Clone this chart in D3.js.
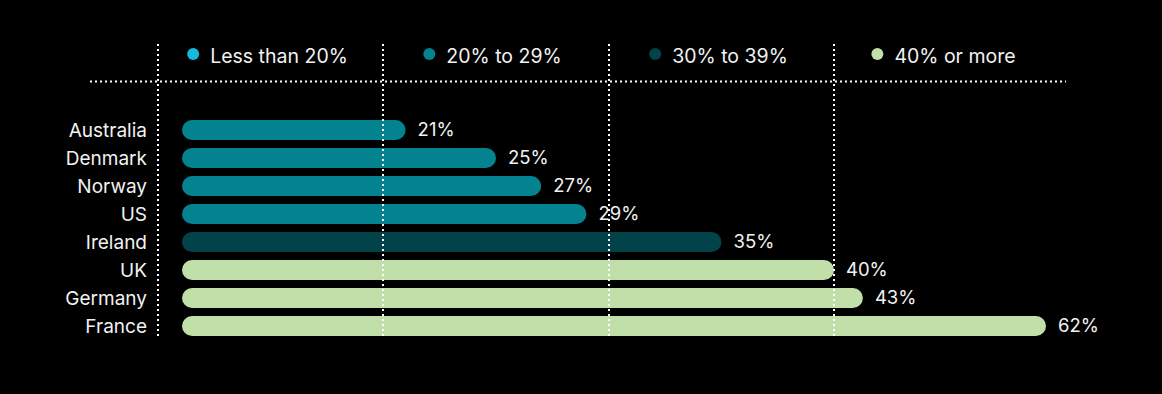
<!DOCTYPE html>
<html>
<head>
<meta charset="utf-8">
<script src="https://cdn.jsdelivr.net/npm/d3@7"></script>
<style>
  body { margin: 0; background: #000; }
  svg { display: block; font-family: Inter, "Noto Sans", sans-serif; }
</style>
</head>
<body>
<svg class="chart"></svg>
<script>
// data
var countries = ["Australia", "Denmark", "Norway", "US", "Ireland", "UK", "Germany", "France"];
var values = [21, 25, 27, 29, 35, 40, 43, 62];
var legendLabels = ["Less than 20%", "20% to 29%", "30% to 39%", "40% or more"];
var binEdges = [20, 30, 40];
var binColors = ["#16b8dc", "#03838f", "#024249", "#c1dfa8"];

var drawChart = function(){
    var width = 1162, height = 394;
    var svg = d3.select(".chart").attr("width", width).attr("height", height);

    // the original isn't drawn to a single linear scale; piecewise along the bins
    var x = d3.scaleLinear()
        .domain([0, 20, 30, 40, 62])
        .range([182, 383, 609, 834, 1046]);
    var y = d3.scaleBand()
        .domain(countries)
        .range([116, 340])
        .paddingInner(0.286)
        .paddingOuter(0.143);
    var color = d3.scaleThreshold().domain(binEdges).range(binColors);

    var rows = countries.map(function(c, i){ return {name: c, value: values[i]}; });

    // bars
    svg.selectAll(".bar")
        .data(rows)
        .enter()
        .append("rect")
        .attr("class", "bar")
        .attr("x", x(0))
        .attr("y", function(d){ return y(d.name); })
        .attr("width", function(d){ return x(d.value) - x(0); })
        .attr("height", y.bandwidth())
        .attr("rx", y.bandwidth() / 2)
        .style("fill", function(d){ return color(d.value); });

    // country labels
    svg.selectAll(".country")
        .data(rows)
        .enter()
        .append("text")
        .attr("x", 147)
        .attr("y", function(d){ return y(d.name) + y.bandwidth() / 2; })
        .attr("dy", "0.35em")
        .attr("text-anchor", "end")
        .style("fill", "#f2f2f2")
        .style("font-size", "19px")
        .text(function(d){ return d.name; });

    // value labels
    svg.selectAll(".value")
        .data(rows)
        .enter()
        .append("text")
        .attr("x", function(d){ return x(d.value) + 12; })
        .attr("y", function(d){ return y(d.name) + y.bandwidth() / 2; })
        .attr("dy", "0.35em")
        .style("fill", "#f2f2f2")
        .style("font-size", "18.5px")
        .text(function(d){ return d.value + "%"; });

    // dotted grid
    var gridX = [x(0) - 24].concat(binEdges.map(x));
    svg.selectAll(".vgrid")
        .data(gridX)
        .enter()
        .append("line")
        .attr("x1", function(d){ return d; })
        .attr("x2", function(d){ return d; })
        .attr("y1", 44)
        .attr("y2", 337)
        .style("stroke", "#fff")
        .style("stroke-width", 2)
        .style("stroke-dasharray", "2,3");
    svg.append("line")
        .attr("x1", 90).attr("x2", 1066)
        .attr("y1", 81.5).attr("y2", 81.5)
        .style("stroke", "#fff")
        .style("stroke-width", 2)
        .style("stroke-dasharray", "2,3");

    // legend, centred in each column between grid lines
    var colW = gridX[1] - gridX[0];
    var legend = svg.selectAll(".legend")
        .data(legendLabels)
        .enter()
        .append("g")
        .attr("class", "legend");
    legend.append("circle")
        .attr("r", 6)
        .attr("cy", 54)
        .style("fill", function(d, i){ return binColors[i]; });
    legend.append("text")
        .attr("y", 56)
        .attr("dy", "0.35em")
        .style("fill", "#f2f2f2")
        .style("font-size", "19.5px")
        .text(function(d){ return d; });
    legend.each(function(d, i){
        var g = d3.select(this);
        var tw = g.select("text").node().getComputedTextLength();
        var total = 23 + tw;
        var start = gridX[i] + (colW - total) / 2 - 3;
        g.select("circle").attr("cx", start + 6);
        g.select("text").attr("x", start + 23);
    });
}

drawChart();
</script>
</body>
</html>
